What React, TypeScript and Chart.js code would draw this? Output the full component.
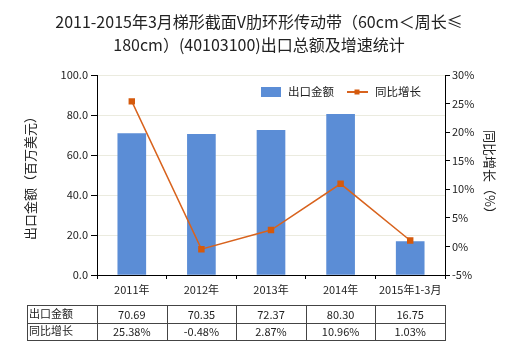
import React, { useEffect, useRef } from "react";
import { Chart, registerables } from "chart.js";

Chart.register(...registerables);

const titleLines = [
  "2011-2015年3月梯形截面V肋环形传动带（60cm＜周长≤",
  "180cm）(40103100)出口总额及增速统计",
];
const categories = ["2011年", "2012年", "2013年", "2014年", "2015年1-3月"];
const amounts = [70.69, 70.35, 72.37, 80.3, 16.75];
const growth = [25.38, -0.48, 2.87, 10.96, 1.03];
const seriesNames = ["出口金额", "同比增长"];
const leftTitle = "出口金额（百万美元）";
const rightTitle = "同比增长（%）";

const FONT = "'Noto Sans CJK SC', 'Liberation Sans', sans-serif";
const BAR_COLOR = "#5b8dd6";
const LINE_COLOR = "#d8631e";
const POINT_COLOR = "#d55a0c";

const extrasPlugin = {
  id: "extras",
  afterDraw(chart: any) {
    const ctx = chart.ctx as CanvasRenderingContext2D;
    const xs = chart.scales.x;
    const area = chart.chartArea;
    ctx.save();
    // title
    ctx.fillStyle = "#222";
    ctx.font = `16px ${FONT}`;
    ctx.textAlign = "center";
    ctx.textBaseline = "middle";
    ctx.fillText(titleLines[0], 259, 22);
    ctx.fillText(titleLines[1], 259, 45);

    // legend
    const ds = chart.data.datasets;
    ctx.font = `11.5px ${FONT}`;
    ctx.textAlign = "left";
    ctx.fillStyle = ds[0].backgroundColor;
    ctx.fillRect(261, 87, 20, 10);
    ctx.fillStyle = "#222";
    ctx.fillText(ds[0].label, 288, 92);
    ctx.strokeStyle = ds[1].borderColor;
    ctx.lineWidth = 2;
    ctx.beginPath();
    ctx.moveTo(347, 92);
    ctx.lineTo(368, 92);
    ctx.stroke();
    ctx.fillStyle = ds[1].pointBackgroundColor;
    ctx.fillRect(354.5, 89.5, 5, 5);
    ctx.fillStyle = "#222";
    ctx.fillText(ds[1].label, 375, 92);

    // table
    const n = categories.length;
    const step = (area.right - area.left) / n;
    const tLeft = 27;
    const rows = [305, 322.5, 340];
    ctx.strokeStyle = "#444";
    ctx.lineWidth = 1;
    ctx.beginPath();
    for (const y of rows) {
      ctx.moveTo(tLeft, Math.round(y) + 0.5);
      ctx.lineTo(area.right, Math.round(y) + 0.5);
    }
    const colXs = [tLeft, area.left];
    for (let i = 0; i < n; i++) colXs.push(xs.getPixelForValue(i) + step / 2);
    for (const x of colXs) {
      ctx.moveTo(Math.round(x) + 0.5, rows[0]);
      ctx.lineTo(Math.round(x) + 0.5, rows[2] + 1);
    }
    ctx.stroke();
    ctx.font = `11px ${FONT}`;
    ctx.fillStyle = "#222";
    const rowMid = [(rows[0] + rows[1]) / 2 + 1, (rows[1] + rows[2]) / 2 + 1];
    ctx.textAlign = "left";
    ctx.fillText(seriesNames[0], tLeft + 2, rowMid[0] - 1);
    ctx.fillText(seriesNames[1], tLeft + 2, rowMid[1] - 1);
    ctx.textAlign = "center";
    for (let i = 0; i < n; i++) {
      const cx = xs.getPixelForValue(i);
      ctx.fillText(amounts[i].toFixed(2), cx, rowMid[0]);
      ctx.fillText(growth[i].toFixed(2) + "%", cx, rowMid[1]);
    }
    ctx.restore();
  },
};

export default function App() {
  const ref = useRef<HTMLCanvasElement | null>(null);
  useEffect(() => {
    if (!ref.current) return;
    const chart = new Chart(ref.current, {
      type: "bar",
      data: {
        labels: categories,
        datasets: [
          {
            type: "bar",
            label: seriesNames[0],
            data: amounts,
            backgroundColor: BAR_COLOR,
            barThickness: 28,
            yAxisID: "y",
            order: 2,
          } as any,
          {
            type: "line",
            label: seriesNames[1],
            data: growth,
            borderColor: LINE_COLOR,
            borderWidth: 1.5,
            pointStyle: "rect",
            pointRadius: 3.5,
            pointBackgroundColor: POINT_COLOR,
            pointBorderColor: POINT_COLOR,
            yAxisID: "y1",
            order: 1,
            tension: 0,
          } as any,
        ],
      },
      options: {
        responsive: false,
        animation: false,
        devicePixelRatio: 1,
        layout: { padding: { top: 75, left: 0, right: 0, bottom: 0 } },
        plugins: {
          legend: { display: false },
          title: { display: false },
          tooltip: { enabled: false },
        },
        scales: {
          x: {
            afterFit: (s: any) => { s.height = 75; },
            grid: { display: true, drawOnChartArea: false, tickLength: 4, tickColor: "#000" },
            border: { color: "#000", width: 1 },
            ticks: { padding: 4, color: "#222", font: { family: FONT, size: 11 }, maxRotation: 0, autoSkip: false },
          },
          y: {
            position: "left",
            min: 0,
            max: 100,
            afterFit: (s: any) => { s.width = 97; },
            grid: { color: "#ebebdf", tickLength: 6, tickColor: "#000" },
            border: { color: "#000", width: 1 },
            ticks: {
              stepSize: 20,
              padding: 3,
              color: "#222",
              font: { family: FONT, size: 11 },
              callback: (v: any) => Number(v).toFixed(1),
            },
            title: {
              display: true,
              text: leftTitle,
              color: "#222",
              font: { family: FONT, size: 13 },
              padding: { top: 22, bottom: 0 },
            },
          },
          y1: {
            position: "right",
            min: -5,
            max: 30,
            afterFit: (s: any) => { s.width = 75; },
            grid: { drawOnChartArea: false, tickLength: 5, tickColor: "#000" },
            border: { color: "#000", width: 1 },
            ticks: {
              stepSize: 5,
              padding: 2,
              color: "#222",
              font: { family: FONT, size: 11 },
              callback: (v: any) => `${v}%`,
            },
            title: {
              display: true,
              text: rightTitle,
              color: "#222",
              font: { family: FONT, size: 13 },
              padding: { top: 22, bottom: 0 },
            },
          },
        },
      } as any,
      plugins: [extrasPlugin],
    });
    return () => chart.destroy();
  }, []);
  return (
    <div style={{ position: "fixed", left: 0, top: 0, width: 520, height: 350, background: "#fff" }}>
      <canvas ref={ref} width={520} height={350} style={{ width: 520, height: 350 }} />
    </div>
  );
}
